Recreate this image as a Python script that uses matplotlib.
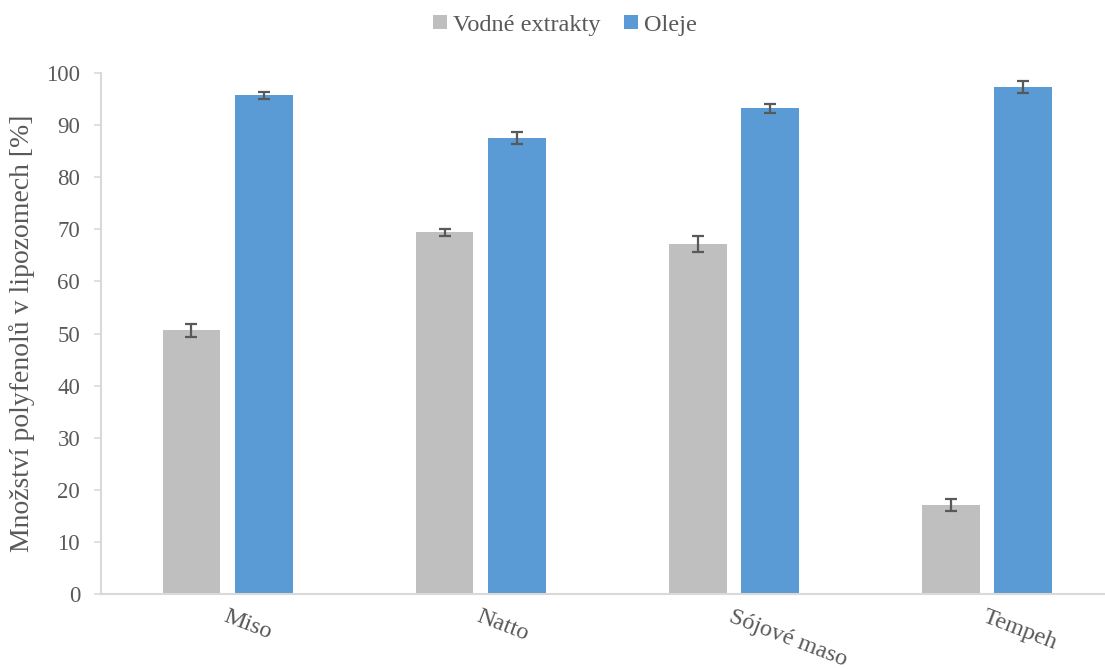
import matplotlib
matplotlib.use("Agg")
import matplotlib.pyplot as plt
import numpy as np

categories = ["Miso", "Natto", "Sójové maso", "Tempeh"]
series_names = ["Vodné extrakty", "Oleje"]
vodne = [50.6, 69.4, 67.2, 17.1]
vodne_err = [1.2, 0.6, 1.6, 1.2]
oleje = [95.7, 87.5, 93.2, 97.3]
oleje_err = [0.7, 1.2, 0.9, 1.2]
yticks = [0, 10, 20, 30, 40, 50, 60, 70, 80, 90, 100]

plt.rcParams['font.family'] = ['Liberation Serif', 'DejaVu Serif']
txt = '#595959'
axc = '#d9d9d9'

fig = plt.figure(figsize=(11.05, 6.69), dpi=100)
ax = fig.add_axes([101/1105, 1 - 594/669, 1 - 101/1105, (594 - 73)/669])

x = np.arange(len(categories))
w = 0.228
off = 0.143
ekw = dict(ecolor='#595959', elinewidth=1.6, capsize=4.5, capthick=1.6)
ax.bar(x - off, vodne, w, color='#BFBFBF', label=series_names[0],
       yerr=vodne_err, error_kw=ekw, zorder=2)
ax.bar(x + off, oleje, w, color='#5B9BD5', label=series_names[1],
       yerr=oleje_err, error_kw=ekw, zorder=2)

ax.set_xlim(-0.5, 3.466)
ax.set_ylim(0, 100)
ax.set_yticks(yticks)
ax.set_yticklabels([str(v) for v in yticks], fontsize=16.5, color=txt)
ax.set_xticks(x)
ax.set_xticklabels(categories, fontsize=17.5, color=txt, rotation=-21,
                   ha='left', va='top', rotation_mode='anchor')

for s in ['top', 'right']:
    ax.spines[s].set_visible(False)
for s in ['left', 'bottom']:
    ax.spines[s].set_color(axc)
    ax.spines[s].set_linewidth(1.5)
ax.tick_params(axis='y', direction='out', length=5, width=1.2, color=axc, pad=10)
ax.tick_params(axis='x', length=0, pad=9)

ax.set_ylabel("Množství polyfenolů v lipozomech [%]", fontsize=20, color=txt, labelpad=8)

leg = fig.legend(loc='upper center', bbox_to_anchor=(565/1105, 1.011), ncol=2,
                 frameon=False, fontsize=17.5, handlelength=0.55, handleheight=0.55,
                 handletextpad=0.25, columnspacing=1.0, labelcolor=txt)

fig.savefig("out.png", dpi=100)
